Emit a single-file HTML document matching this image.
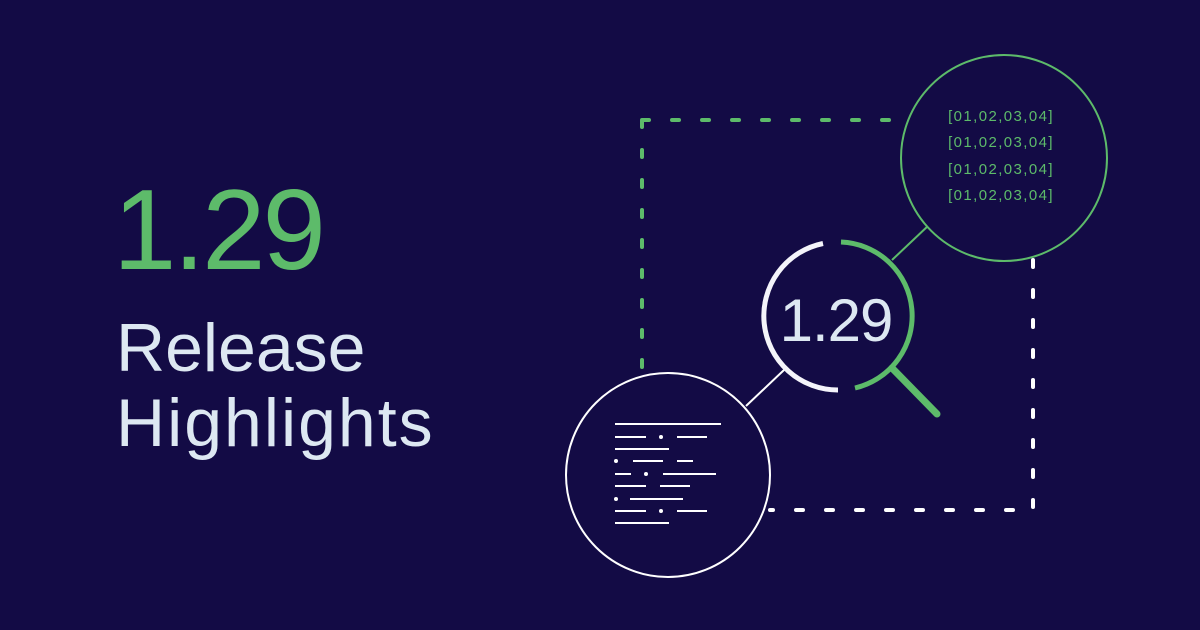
<!DOCTYPE html>
<html><head><meta charset="utf-8"><style>
html,body{margin:0;padding:0;background:#130B45;}
svg{display:block}
</style></head><body>
<svg width="1200" height="630" viewBox="0 0 1200 630" xmlns="http://www.w3.org/2000/svg">
<rect width="1200" height="630" fill="#130B45"/>
<g font-family="Liberation Sans, sans-serif">
<text x="113" y="269" font-size="114" fill="#5DBB6A" letter-spacing="-3">1.29</text>
<text x="116" y="371" font-size="68" fill="#DDE8F2">Release</text>
<text x="116" y="446" font-size="68" fill="#DDE8F2" letter-spacing="2">Highlights</text>
</g>
<path d="M642 120 H905 M642 120 V372" stroke="#5DBB6A" stroke-width="4" stroke-linecap="round" stroke-dasharray="7 23" fill="none"/>
<path d="M1033 260 V510 H770" stroke="#FFFFFF" stroke-width="4" stroke-linecap="round" stroke-dasharray="7 23" fill="none"/>
<line x1="892" y1="260" x2="929" y2="225" stroke="#5DBB6A" stroke-width="2"/>
<line x1="746" y1="406" x2="784" y2="370" stroke="#FFFFFF" stroke-width="2"/>
<circle cx="1004" cy="158" r="103" fill="#130B45" stroke="#5DBB6A" stroke-width="2"/>
<g font-family="Liberation Sans, sans-serif" font-size="15" fill="#5DBB6A" text-anchor="middle" letter-spacing="1.4">
<text x="1001" y="121">[01,02,03,04]</text>
<text x="1001" y="147">[01,02,03,04]</text>
<text x="1001" y="174">[01,02,03,04]</text>
<text x="1001" y="200">[01,02,03,04]</text>
</g>
<path d="M823 243.5 A74 74 0 0 0 838 390" stroke="#F4F4FA" stroke-width="5" fill="none"/>
<path d="M841 242 A74 74 0 0 1 855 388" stroke="#5DBB6A" stroke-width="5" fill="none"/>
<line x1="892" y1="368" x2="937" y2="414" stroke="#5DBB6A" stroke-width="7" stroke-linecap="round"/>
<text x="836" y="341" font-family="Liberation Sans, sans-serif" font-size="60" fill="#DDE8F2" text-anchor="middle" letter-spacing="-1">1.29</text>
<circle cx="668" cy="475" r="102" fill="#130B45" stroke="#FFFFFF" stroke-width="2"/>
<g stroke="#FFFFFF" stroke-width="2" fill="none">
<path d="M615 424H721 M615 437H646 M677 437H707 M615 449H669 M633 461H663 M677 461H693 M615 474H631 M663 474H716 M615 486H646 M660 486H690 M630 499H683 M615 511H646 M677 511H707 M615 523H669"/>
</g>
<g fill="#FFFFFF">
<circle cx="661" cy="437" r="2"/><circle cx="616" cy="461" r="2"/><circle cx="646" cy="474" r="2"/><circle cx="616" cy="499" r="2"/><circle cx="661" cy="511" r="2"/>
</g>
</svg>
</body></html>
